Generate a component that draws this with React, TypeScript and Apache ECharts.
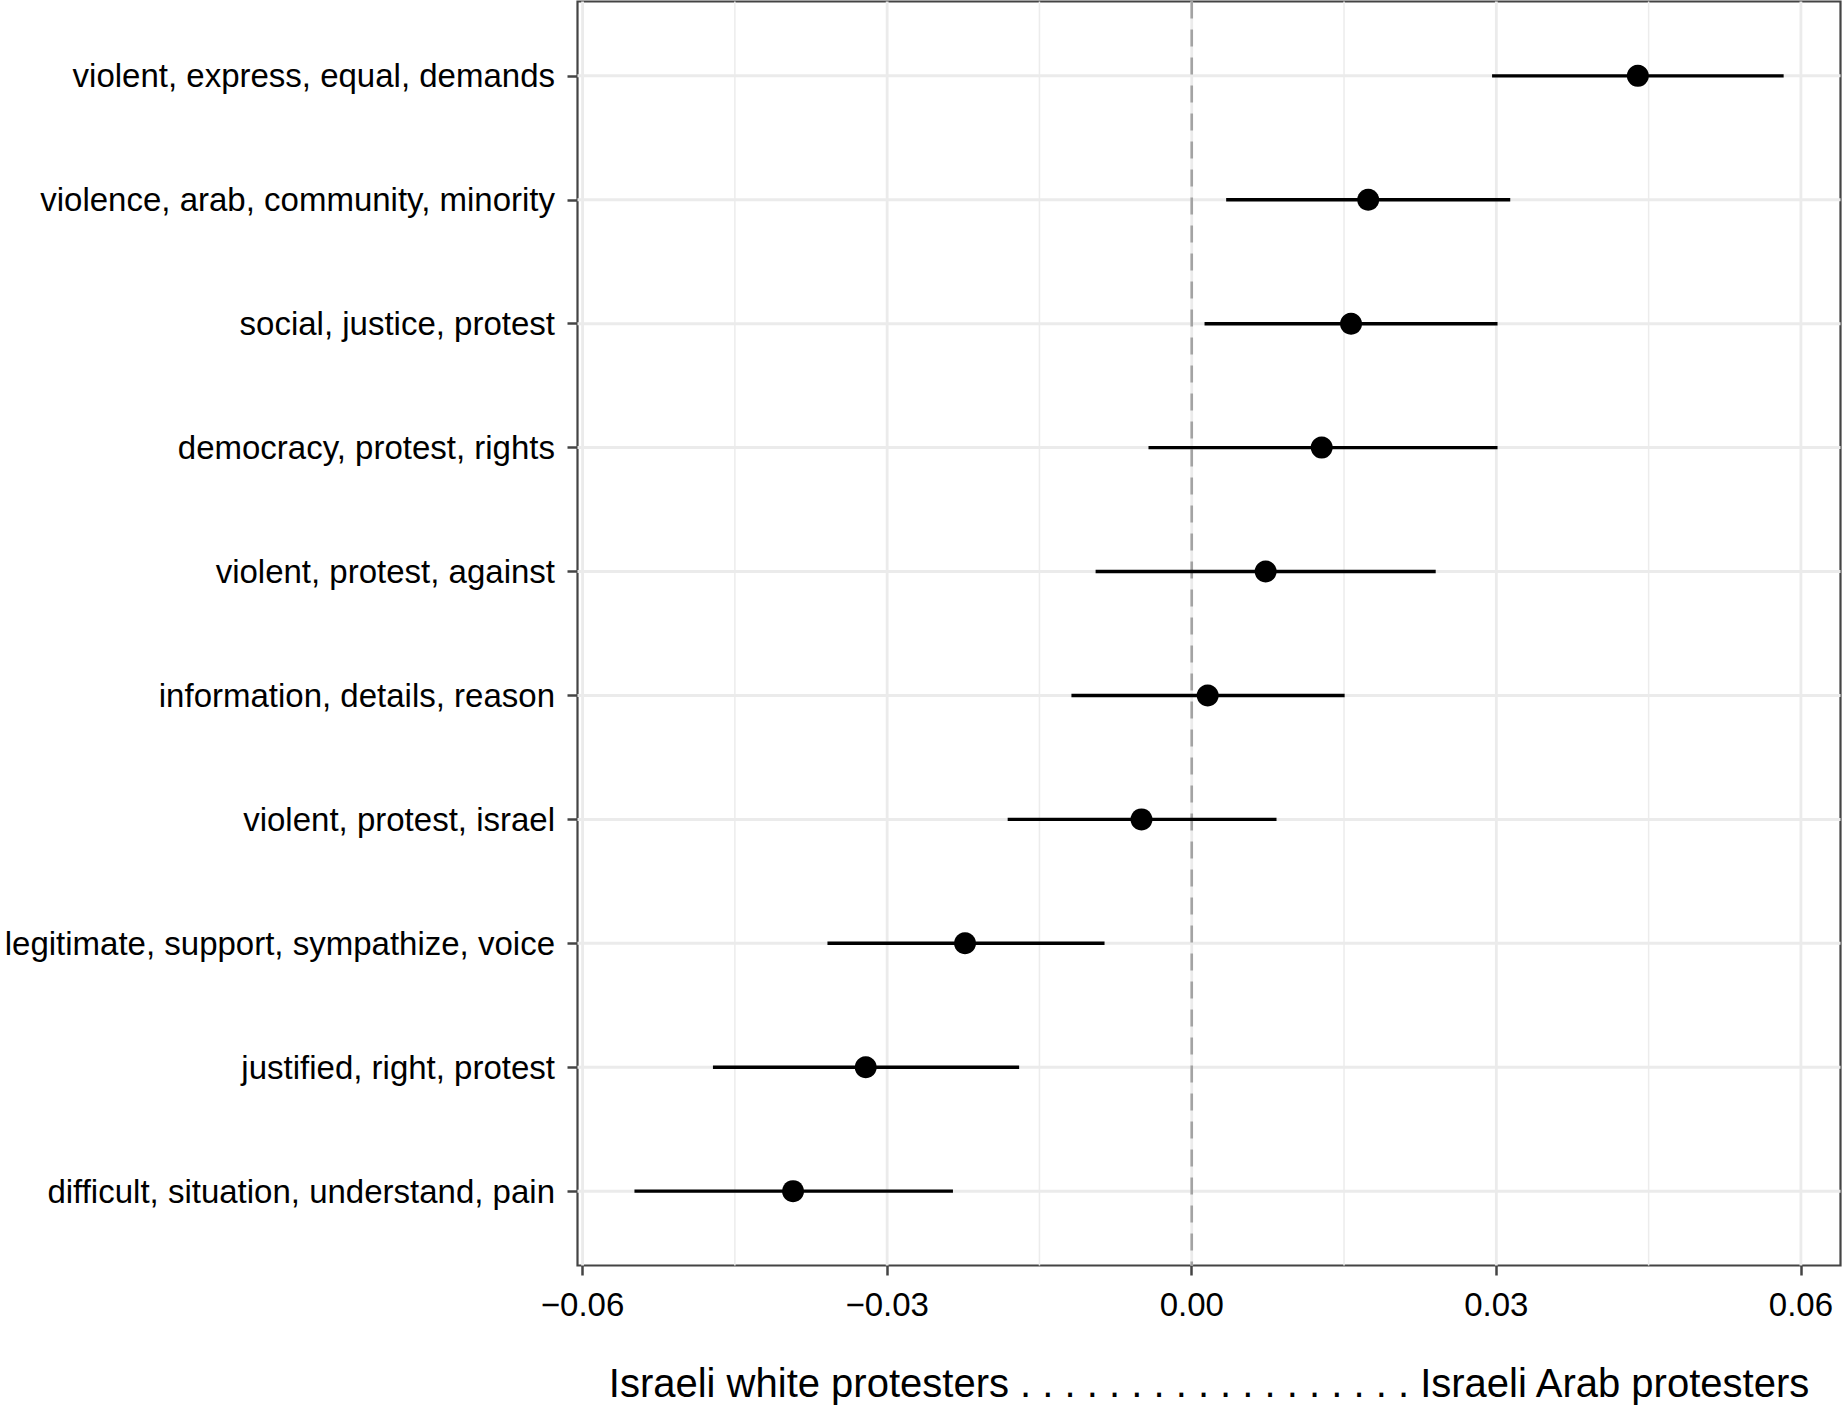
import React, { useEffect, useRef } from "react";
import * as echarts from "echarts";

const categories = [
  "violent, express, equal, demands",
  "violence, arab, community, minority",
  "social, justice, protest",
  "democracy, protest, rights",
  "violent, protest, against",
  "information, details, reason",
  "violent, protest, israel",
  "legitimate, support, sympathize, voice",
  "justified, right, protest",
  "difficult, situation, understand, pain",
];
const estimates = [0.04394, 0.01738, 0.01569, 0.0128, 0.00728, 0.00157, -0.00495, -0.02233, -0.03211, -0.03927];
const lowerBounds = [0.02958, 0.00339, 0.00126, -0.00426, -0.00947, -0.01185, -0.01813, -0.03588, -0.04716, -0.05489];
const upperBounds = [0.0583, 0.03137, 0.03012, 0.03012, 0.02403, 0.01506, 0.00835, -0.00859, -0.017, -0.02352];
const majorTicks = [-0.06, -0.03, 0, 0.03, 0.06];
const minorTicks = [-0.045, -0.015, 0.015, 0.045];
const referenceLine = [0];
const xTitle =
  "Israeli white protesters . . . . . . . . . . . . . . . . . . Israeli Arab protesters";

const FONT = "'Liberation Sans', Arial, Helvetica, sans-serif";

export default function App() {
  const ref = useRef<HTMLDivElement>(null);
  useEffect(() => {
    if (!ref.current) return;
    const chart = echarts.init(ref.current, null, { renderer: "svg" });
    const rows = categories.map((_, i) => i);
    const fmtX = (v: number) => (v < 0 ? "\u2212" : "") + Math.abs(v).toFixed(2);

    const vLine = (width: number, color: string, dash?: number[]) => (params: any, api: any) => {
      const cs = params.coordSys;
      const x = api.coord([api.value(0), 0])[0];
      return {
        type: "line",
        shape: { x1: x, y1: cs.y, x2: x, y2: cs.y + cs.height },
        style: { stroke: color, lineWidth: width, lineDash: dash },
        silent: true,
      };
    };

    const option: any = {
      animation: false,
      backgroundColor: "#ffffff",
      grid: {
        left: 577.5,
        right: 2.5,
        top: 1.5,
        bottom: 149.5,
        show: true,
        borderColor: "#444444",
        borderWidth: 2.2,
        backgroundColor: "#ffffff",
        containLabel: false,
      },
      xAxis: {
        type: "value",
        min: -0.0605,
        max: 0.0639,
        name: xTitle,
        nameLocation: "middle",
        nameGap: 97,
        nameTextStyle: { fontSize: 40, color: "#000", fontFamily: FONT },
        axisLine: { show: false, onZero: false },
        axisTick: {
          show: true,
          length: 10,
          customValues: majorTicks,
          lineStyle: { color: "#444444", width: 2.5 },
        },
        axisLabel: {
          customValues: majorTicks,
          formatter: fmtX,
          fontSize: 33,
          color: "#000",
          margin: 22,
          fontFamily: FONT,
        },
        splitLine: { show: false },
      },
      yAxis: {
        type: "value",
        inverse: true,
        min: -0.6,
        max: 9.6,
        axisLine: { show: false, onZero: false },
        axisTick: {
          show: true,
          length: 10,
          customValues: rows,
          lineStyle: { color: "#444444", width: 2.5 },
        },
        axisLabel: {
          customValues: rows,
          formatter: (v: number) => categories[Math.round(v)] ?? "",
          fontSize: 33,
          color: "#000",
          margin: 22.5,
          fontFamily: FONT,
        },
        splitLine: { show: false },
      },
      series: [
        {
          type: "custom",
          name: "minorGrid",
          coordinateSystem: "cartesian2d",
          silent: true,
          z: 1,
          data: minorTicks.map((v) => [v]),
          renderItem: vLine(1.5, "#ececec"),
        },
        {
          type: "custom",
          name: "majorGrid",
          coordinateSystem: "cartesian2d",
          silent: true,
          z: 1,
          data: majorTicks.map((v) => [v]),
          renderItem: vLine(2.8, "#ebebeb"),
        },
        {
          type: "custom",
          name: "rowGrid",
          coordinateSystem: "cartesian2d",
          silent: true,
          z: 1,
          data: rows.map((i) => [0, i]),
          renderItem: (params: any, api: any) => {
            const cs = params.coordSys;
            const y = api.coord([0, api.value(1)])[1];
            return {
              type: "line",
              shape: { x1: cs.x, y1: y, x2: cs.x + cs.width, y2: y },
              style: { stroke: "#ebebeb", lineWidth: 3 },
              silent: true,
            };
          },
        },
        {
          type: "custom",
          name: "zeroLine",
          coordinateSystem: "cartesian2d",
          silent: true,
          z: 2,
          data: referenceLine.map((v) => [v]),
          renderItem: vLine(2.6, "#a3a3a3", [17, 11]),
        },
        {
          type: "custom",
          name: "intervals",
          coordinateSystem: "cartesian2d",
          silent: true,
          z: 3,
          data: rows.map((i) => [lowerBounds[i], upperBounds[i], i]),
          encode: { x: [0, 1], y: 2 },
          renderItem: (params: any, api: any) => {
            const p1 = api.coord([api.value(0), api.value(2)]);
            const p2 = api.coord([api.value(1), api.value(2)]);
            return {
              type: "line",
              shape: { x1: p1[0], y1: p1[1], x2: p2[0], y2: p2[1] },
              style: { stroke: "#000", lineWidth: 3.4 },
              silent: true,
            };
          },
        },
        {
          type: "scatter",
          name: "estimate",
          z: 4,
          symbol: "circle",
          symbolSize: 22,
          itemStyle: { color: "#000", opacity: 1 },
          silent: true,
          data: rows.map((i) => [estimates[i], i]),
        },
      ],
    };
    chart.setOption(option);
    return () => chart.dispose();
  }, []);
  return (
    <div
      ref={ref}
      style={{ position: "absolute", left: 0, top: 0, width: 1843, height: 1415, background: "#fff" }}
    />
  );
}
